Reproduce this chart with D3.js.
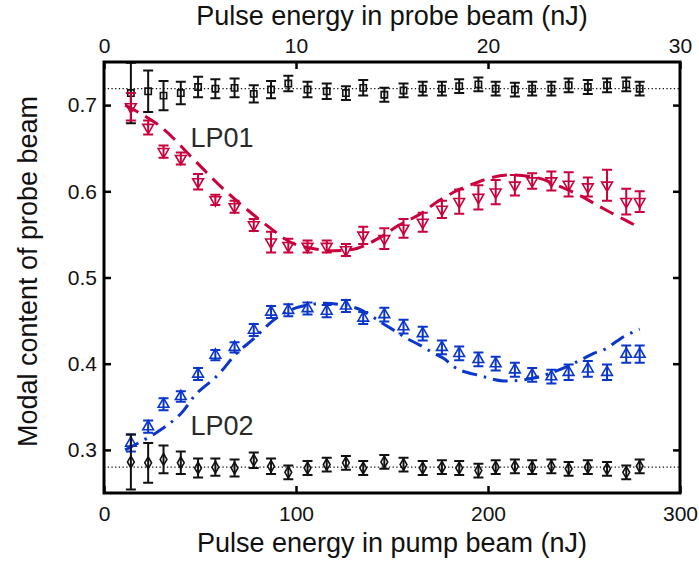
<!DOCTYPE html>
<html>
<head>
<meta charset="utf-8">
<script src="https://cdn.jsdelivr.net/npm/d3@7"></script>
<style>
  html, body { margin: 0; padding: 0; background: #fff; }
  svg { display: block; font-family: "Liberation Sans", Arial, Helvetica, sans-serif; }
</style>
</head>
<body>
<svg id="chart" width="699" height="561"></svg>
<script>
// ---------- data ----------
const pumpEnergy = [14, 23, 31, 40, 49, 58, 68, 78, 87, 96, 106, 116, 126, 135, 146, 156, 166, 176, 185, 195, 204, 214, 223, 233, 242, 252, 262, 272, 279];

const lp01TotalValues = [0.714, 0.716, 0.711, 0.714, 0.721, 0.719, 0.720, 0.713, 0.718, 0.725, 0.718, 0.716, 0.714, 0.720, 0.712, 0.717, 0.719, 0.719, 0.722, 0.724, 0.719, 0.718, 0.719, 0.719, 0.723, 0.721, 0.723, 0.724, 0.719];
const lp01TotalErr    = [0.035, 0.024, 0.017, 0.013, 0.012, 0.011, 0.011, 0.010, 0.010, 0.009, 0.009, 0.009, 0.008, 0.009, 0.008, 0.008, 0.008, 0.008, 0.008, 0.008, 0.008, 0.008, 0.008, 0.008, 0.008, 0.008, 0.008, 0.008, 0.008];

const lp01Values = [0.698, 0.674, 0.646, 0.638, 0.611, 0.590, 0.582, 0.561, 0.541, 0.537, 0.536, 0.536, 0.532, 0.549, 0.545, 0.557, 0.564, 0.579, 0.588, 0.593, 0.599, 0.607, 0.612, 0.612, 0.608, 0.605, 0.607, 0.588, 0.588];
const lp01Err    = [0.016, 0.008, 0.007, 0.007, 0.009, 0.006, 0.007, 0.007, 0.012, 0.008, 0.007, 0.007, 0.007, 0.010, 0.012, 0.011, 0.011, 0.010, 0.014, 0.014, 0.014, 0.012, 0.009, 0.011, 0.014, 0.011, 0.018, 0.015, 0.012];

const lp02Values = [0.308, 0.327, 0.353, 0.362, 0.388, 0.410, 0.419, 0.439, 0.460, 0.462, 0.464, 0.461, 0.467, 0.453, 0.457, 0.443, 0.435, 0.419, 0.412, 0.405, 0.400, 0.393, 0.387, 0.385, 0.390, 0.394, 0.390, 0.411, 0.411];
const lp02Err    = [0.010, 0.007, 0.007, 0.006, 0.007, 0.006, 0.006, 0.007, 0.007, 0.007, 0.007, 0.007, 0.007, 0.007, 0.008, 0.008, 0.008, 0.008, 0.008, 0.008, 0.008, 0.008, 0.008, 0.008, 0.009, 0.009, 0.009, 0.010, 0.010];

const lp02TotalValues = [0.286, 0.285, 0.289, 0.285, 0.279, 0.280, 0.279, 0.288, 0.281, 0.274, 0.279, 0.283, 0.285, 0.279, 0.286, 0.283, 0.279, 0.280, 0.279, 0.276, 0.280, 0.281, 0.280, 0.281, 0.278, 0.280, 0.278, 0.274, 0.281];
const lp02TotalErr    = [0.032, 0.023, 0.016, 0.013, 0.011, 0.010, 0.010, 0.009, 0.009, 0.008, 0.008, 0.008, 0.008, 0.008, 0.008, 0.008, 0.008, 0.008, 0.008, 0.008, 0.008, 0.008, 0.008, 0.008, 0.008, 0.008, 0.008, 0.008, 0.008];

// model curves
const lp01ModelX = [11, 29, 48, 64, 88, 98, 110, 120, 132, 145, 153, 165, 173, 184, 194, 202, 212, 227, 236, 248, 260, 272, 279];
const lp01ModelY = [0.700, 0.676, 0.634, 0.599, 0.555, 0.540, 0.533, 0.531, 0.534, 0.548, 0.560, 0.574, 0.587, 0.601, 0.610, 0.616, 0.619, 0.615, 0.607, 0.595, 0.580, 0.566, 0.558];

const lp02ModelX = [11, 28, 40, 48, 59, 69, 78, 88, 95, 102, 115, 132, 145, 153, 158, 165, 171, 177, 184, 196, 208, 223, 236, 248, 255, 261, 267, 272, 279];
const lp02ModelY = [0.300, 0.321, 0.342, 0.365, 0.386, 0.412, 0.429, 0.450, 0.460, 0.466, 0.470, 0.464, 0.447, 0.436, 0.429, 0.421, 0.413, 0.406, 0.394, 0.386, 0.380, 0.383, 0.392, 0.404, 0.412, 0.417, 0.426, 0.433, 0.440];

const refLines = [0.719, 0.280];

const bottomTicks = [0, 100, 200, 300];
const topTicks = [0, 10, 20, 30];
const yTicks = [0.3, 0.4, 0.5, 0.6, 0.7];

const labels = [
  { text: "LP01", x: 45, y: 0.651 },
  { text: "LP02", x: 45, y: 0.317 }
];

// ---------- layout ----------
const svg = d3.select("#chart");
const L = 104, R = 680, T = 62, B = 493;
const x = d3.scaleLinear().domain([0, 300]).range([L, R]);
const xTop = d3.scaleLinear().domain([0, 30]).range([L, R]);
const y = d3.scaleLinear().domain([0.25, 0.75]).range([B, T]);

const red = "#c9003c", blue = "#0a36cc", black = "#111";

svg.append("defs").append("clipPath").attr("id", "clip")
  .append("rect").attr("x", L).attr("y", T).attr("width", R - L).attr("height", B - T);

const plot = svg.append("g").attr("clip-path", "url(#clip)");

// reference dotted lines
plot.selectAll("line.ref").data(refLines).join("line")
  .attr("x1", L).attr("x2", R)
  .attr("y1", d => y(d)).attr("y2", d => y(d))
  .attr("stroke", black).attr("stroke-width", 1.3)
  .attr("stroke-dasharray", "1.3,2.4");

// model lines
const line = d3.line().x(d => x(d[0])).y(d => y(d[1])).curve(d3.curveCatmullRom);
plot.append("path")
  .datum(lp01ModelX.map((v, i) => [v, lp01ModelY[i]]))
  .attr("d", line).attr("fill", "none")
  .attr("stroke", red).attr("stroke-width", 3)
  .attr("stroke-dasharray", "15,8");
plot.append("path")
  .datum(lp02ModelX.map((v, i) => [v, lp02ModelY[i]]))
  .attr("d", line).attr("fill", "none")
  .attr("stroke", blue).attr("stroke-width", 3)
  .attr("stroke-dasharray", "15,7,2.5,7");

// series with error bars
function series(vals, errs, color, symType, size, rotate) {
  const g = plot.append("g");
  const data = pumpEnergy.map((p, i) => ({ p, v: vals[i], e: errs[i] }));
  const cw = 5;
  g.selectAll("path.eb").data(data).join("path")
    .attr("d", d => {
      const cx = x(d.p), y1 = y(d.v + d.e), y2 = y(d.v - d.e);
      return `M${cx},${y1}V${y2}M${cx - cw},${y1}H${cx + cw}M${cx - cw},${y2}H${cx + cw}`;
    })
    .attr("fill", "none").attr("stroke", color).attr("stroke-width", 2);
  const sym = d3.symbol().type(symType).size(size);
  g.selectAll("path.mk").data(data).join("path")
    .attr("d", sym)
    .attr("transform", d => `translate(${x(d.p)},${y(d.v)})` + (rotate ? " rotate(180)" : ""))
    .attr("fill", "none").attr("stroke", color).attr("stroke-width", 1.6);
}
series(lp01TotalValues, lp01TotalErr, black, d3.symbolSquare, 40, false);
series(lp01Values, lp01Err, red, d3.symbolTriangle, 50, true);
series(lp02Values, lp02Err, blue, d3.symbolTriangle, 50, false);
series(lp02TotalValues, lp02TotalErr, black, d3.symbolDiamond, 40, false);

// labels
svg.selectAll("text.lbl").data(labels).join("text")
  .attr("x", d => x(d.x)).attr("y", d => y(d.y))
  .attr("font-size", 27).attr("fill", "#2a2a2a").text(d => d.text);

// axes
const tickFont = 21;
function styleAxis(g) {
  g.select(".domain").remove();
  g.selectAll(".tick line").attr("stroke", "#000").attr("stroke-width", 2.5);
  g.selectAll(".tick text").attr("font-size", tickFont).attr("fill", "#111")
    .attr("font-family", "'Liberation Sans', Arial, sans-serif");
}
svg.append("g").attr("transform", `translate(0,${B})`)
  .call(d3.axisBottom(x).tickValues(bottomTicks).tickSize(-7).tickPadding(13).tickFormat(d3.format("d")))
  .call(styleAxis);
svg.append("g").attr("transform", `translate(0,${T})`)
  .call(d3.axisTop(xTop).tickValues(topTicks).tickSize(-7).tickPadding(9).tickFormat(d3.format("d")))
  .call(styleAxis);
svg.append("g").attr("transform", `translate(${L},0)`)
  .call(d3.axisLeft(y).tickValues(yTicks).tickSize(-7).tickPadding(7).tickFormat(d3.format(".1f")))
  .call(styleAxis);
svg.append("g").attr("transform", `translate(${R},0)`)
  .call(d3.axisRight(y).tickValues(yTicks).tickSize(-7).tickFormat(""))
  .call(styleAxis);

// frame
svg.append("rect").attr("x", L).attr("y", T).attr("width", R - L).attr("height", B - T)
  .attr("fill", "none").attr("stroke", "#000").attr("stroke-width", 3);

// titles
svg.append("text").attr("x", (L + R) / 2).attr("y", 552).attr("text-anchor", "middle")
  .attr("font-size", 27).attr("fill", "#111").text("Pulse energy in pump beam (nJ)");
svg.append("text").attr("x", (L + R) / 2).attr("y", 25).attr("text-anchor", "middle")
  .attr("font-size", 27).attr("fill", "#111").text("Pulse energy in probe beam (nJ)");
svg.append("text").attr("transform", `translate(37,${(T + B) / 2 - 6}) rotate(-90)`)
  .attr("text-anchor", "middle")
  .attr("font-size", 27).attr("fill", "#111").text("Modal content of probe beam");
</script>
</body>
</html>
